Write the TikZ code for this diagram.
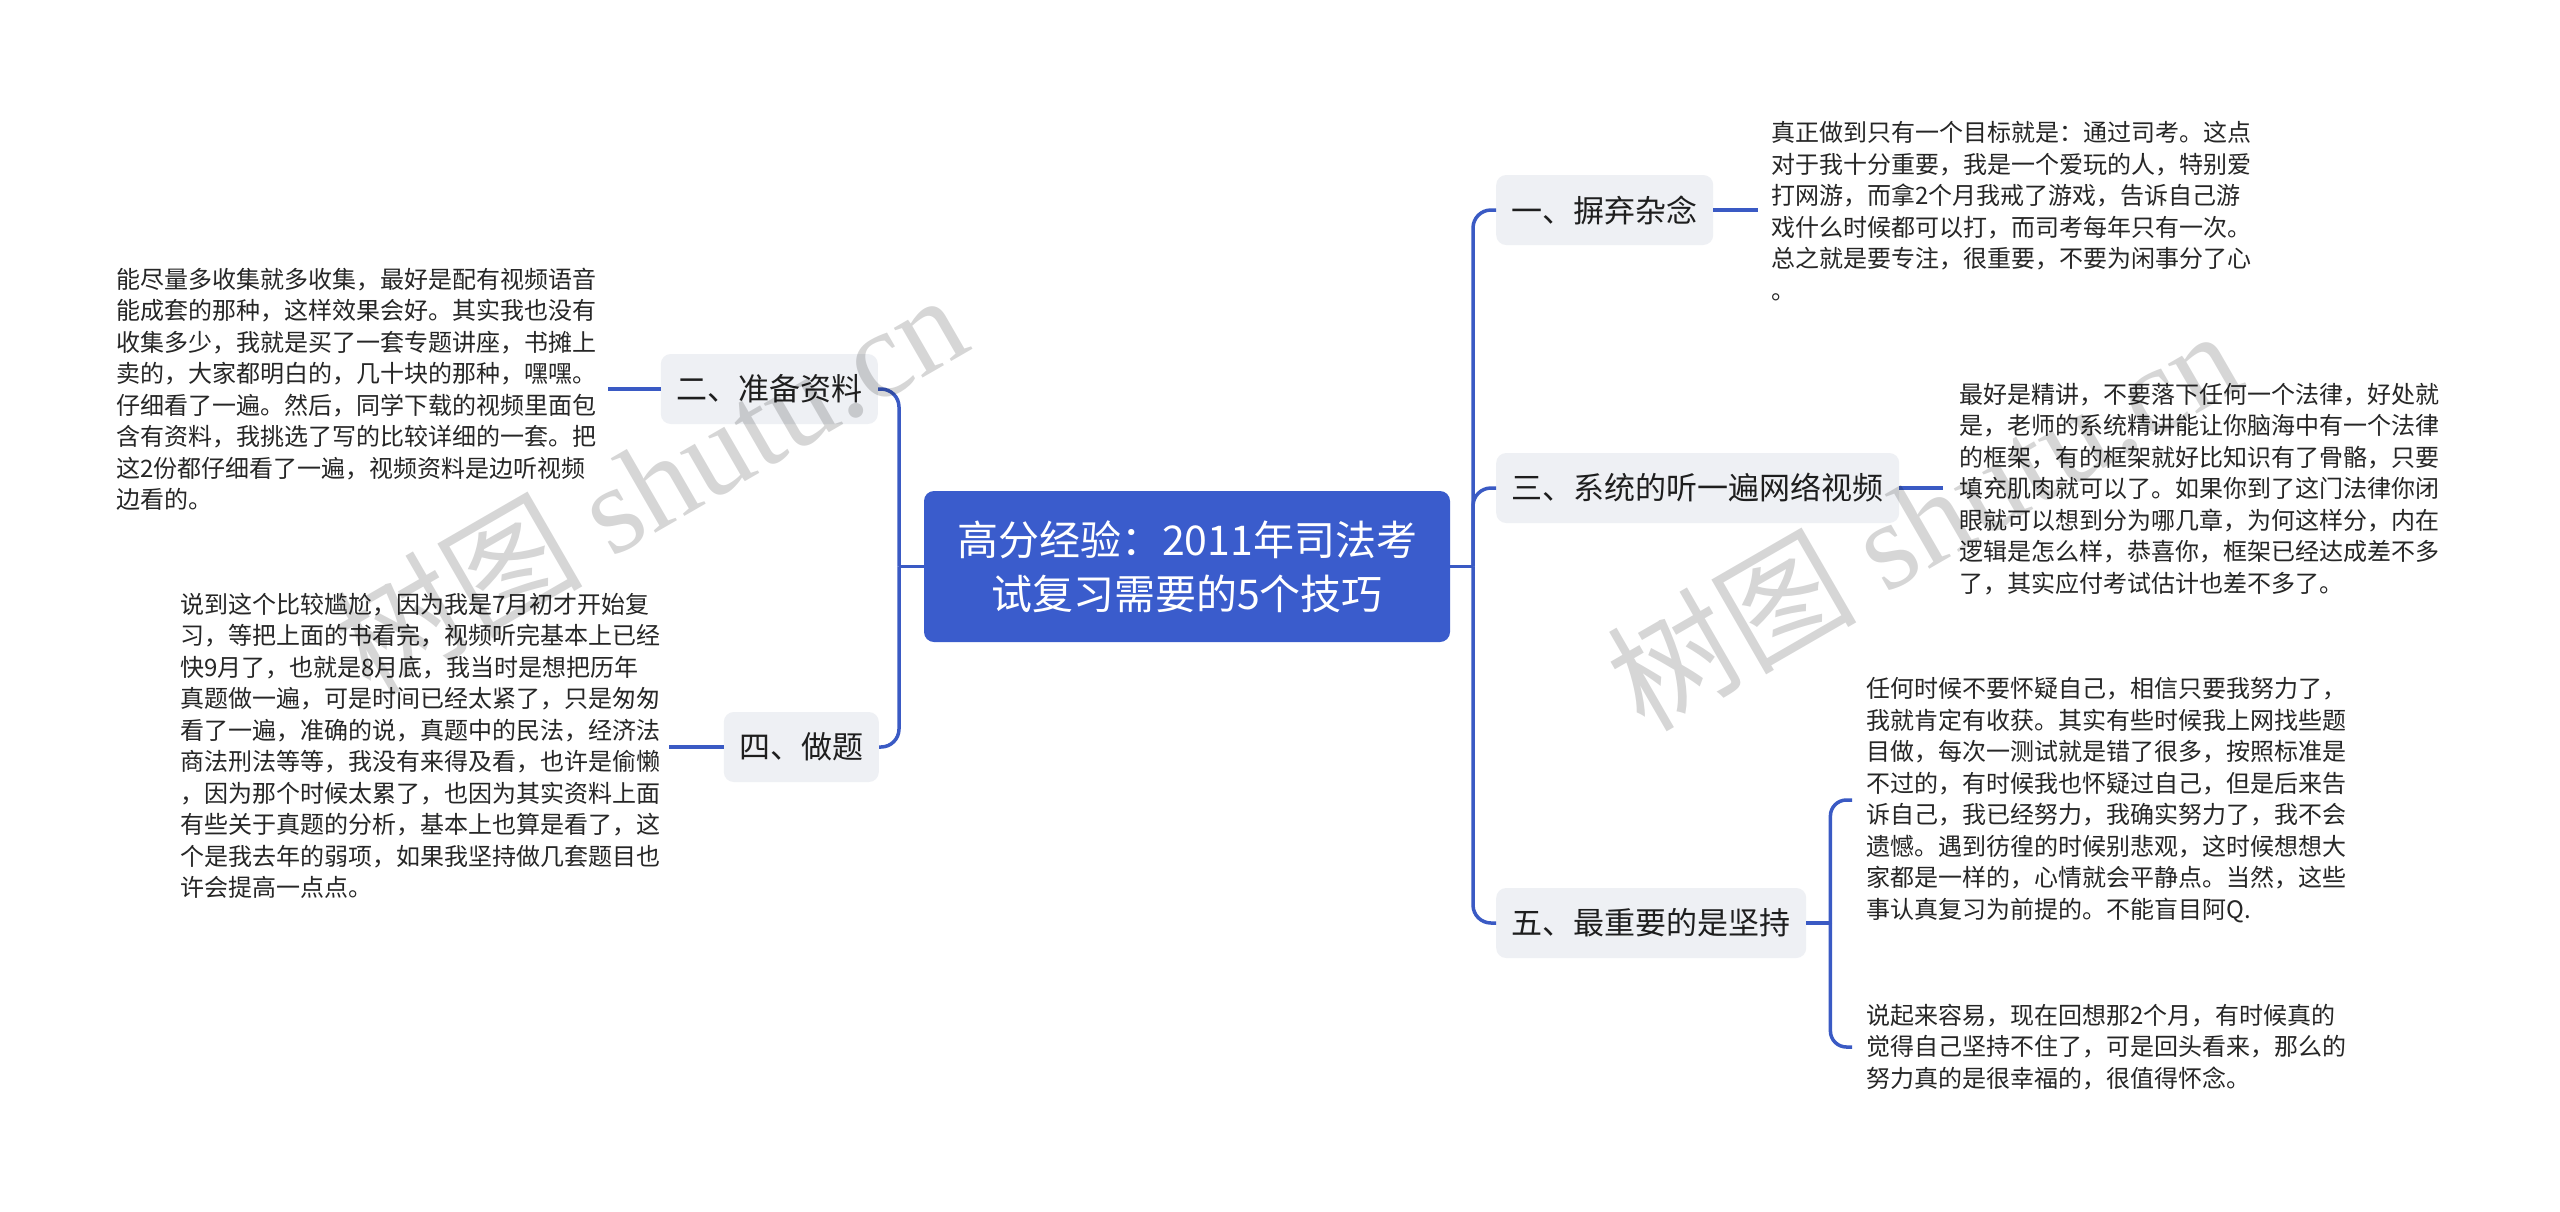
\documentclass[tikz,border=0pt]{standalone}
\usepackage{fontspec}
\setmainfont{Noto Sans CJK SC}
\newfontfamily\wmserif{Liberation Serif}
\usetikzlibrary{calc}
\definecolor{mainblue}{HTML}{3A5CCC}
\definecolor{linecol}{HTML}{3A5AC4}
\definecolor{branchbg}{HTML}{EEF0F4}
\definecolor{txtdark}{HTML}{1E1E1E}
\definecolor{txtleaf}{HTML}{262626}
\begin{document}
\begin{tikzpicture}[x=1pt,y=-1pt,
  conn/.style={draw=linecol, line width=3.5pt},
  rootbox/.style={fill=mainblue, rounded corners=10pt, text=white, font=\fontsize{41}{54}\selectfont, align=center, minimum width=526pt, minimum height=151pt, inner sep=0pt},
  branch/.style={fill=branchbg, rounded corners=10pt, text=txtdark, font=\fontsize{31}{36}\selectfont, inner xsep=15.5pt, inner ysep=0pt, minimum height=70pt},
  leaf/.style={text=txtleaf, font=\fontsize{24}{31.5}\selectfont, align=left, inner sep=0pt, anchor=west},
  wm/.style={text=black, opacity=0.16, rotate=30, font=\fontsize{125}{130}\selectfont, inner sep=0pt}]
\fill[white] (0,0) rectangle (2560,1211);
\useasboundingbox (0,0) rectangle (2560,1211);

% root
\node[rootbox] (root) at (1187,566.5) {高分经验：2011年司法考\\试复习需要的5个技巧};

% branches
\node[branch, anchor=east] (b2) at (878,389) {二、准备资料};
\node[branch, anchor=east] (b4) at (879,747) {四、做题};
\node[branch, anchor=west] (b1) at (1496,210) {一、摒弃杂念};
\node[branch, anchor=west] (b3) at (1496,488) {三、系统的听一遍网络视频};
\node[branch, anchor=west] (b5) at (1496,923) {五、最重要的是坚持};

% leaves
\node[leaf] (t2) at (116,389.5) {能尽量多收集就多收集，最好是配有视频语音\\
能成套的那种，这样效果会好。其实我也没有\\
收集多少，我就是买了一套专题讲座，书摊上\\
卖的，大家都明白的，几十块的那种，嘿嘿。\\
仔细看了一遍。然后，同学下载的视频里面包\\
含有资料，我挑选了写的比较详细的一套。把\\
这2份都仔细看了一遍，视频资料是边听视频\\
边看的。};

\node[leaf] (t4) at (180,746) {说到这个比较尴尬，因为我是7月初才开始复\\
习，等把上面的书看完，视频听完基本上已经\\
快9月了，也就是8月底，我当时是想把历年\\
真题做一遍，可是时间已经太紧了，只是匆匆\\
看了一遍，准确的说，真题中的民法，经济法\\
商法刑法等等，我没有来得及看，也许是偷懒\\
，因为那个时候太累了，也因为其实资料上面\\
有些关于真题的分析，基本上也算是看了，这\\
个是我去年的弱项，如果我坚持做几套题目也\\
许会提高一点点。};

\node[leaf] (t1) at (1771,211) {真正做到只有一个目标就是：通过司考。这点\\
对于我十分重要，我是一个爱玩的人，特别爱\\
打网游，而拿2个月我戒了游戏，告诉自己游\\
戏什么时候都可以打，而司考每年只有一次。\\
总之就是要专注，很重要，不要为闲事分了心\\
。};

\node[leaf] (t3) at (1959,489) {最好是精讲，不要落下任何一个法律，好处就\\
是，老师的系统精讲能让你脑海中有一个法律\\
的框架，有的框架就好比知识有了骨骼，只要\\
填充肌肉就可以了。如果你到了这门法律你闭\\
眼就可以想到分为哪几章，为何这样分，内在\\
逻辑是怎么样，恭喜你，框架已经达成差不多\\
了，其实应付考试估计也差不多了。};

\node[leaf] (t5a) at (1866,800) {任何时候不要怀疑自己，相信只要我努力了，\\
我就肯定有收获。其实有些时候我上网找些题\\
目做，每次一测试就是错了很多，按照标准是\\
不过的，有时候我也怀疑过自己，但是后来告\\
诉自己，我已经努力，我确实努力了，我不会\\
遗憾。遇到彷徨的时候别悲观，这时候想想大\\
家都是一样的，心情就会平静点。当然，这些\\
事认真复习为前提的。不能盲目阿Q.};

\node[leaf] (t5b) at (1866,1047) {说起来容易，现在回想那2个月，有时候真的\\
觉得自己坚持不住了，可是回头看来，那么的\\
努力真的是很幸福的，很值得怀念。};

% main connectors
\coordinate (LS) at (899,566.5);
\coordinate (RS) at (1473,566.5);
\draw[conn] (root.west) -- (LS);
\draw[conn, rounded corners=18pt] (LS) |- (b2.east);
\draw[conn, rounded corners=18pt] (LS) |- (b4.east);
\draw[conn] (root.east) -- (RS);
\draw[conn, rounded corners=18pt] (RS) |- (b1.west);
\draw[conn, rounded corners=18pt] (RS) |- (b3.west);
\draw[conn, rounded corners=18pt] (RS) |- (b5.west);

% leaf connectors
\coordinate (e2) at ([xshift=12pt]t2.east);
\draw[conn] (b2.west) -- (b2.west -| e2);
\coordinate (e4) at ([xshift=9pt]t4.east);
\draw[conn] (b4.west) -- (b4.west -| e4);
\coordinate (e1) at ([xshift=-13pt]t1.west);
\draw[conn] (b1.east) -- (b1.east -| e1);
\coordinate (e3) at ([xshift=-16pt]t3.west);
\draw[conn] (b3.east) -- (b3.east -| e3);
\coordinate (FS) at ([xshift=24pt]b5.east);
\draw[conn] (b5.east) -- (FS);
\draw[conn, rounded corners=16pt] (FS) |- ([xshift=-14pt]t5a.west);
\draw[conn, rounded corners=16pt] (FS) |- ([xshift=-14pt]t5b.west);

% watermarks
\node[wm] (wm1) at (649,482) {树图 {\wmserif shutu.cn}};
\node[wm] (wm2) at (1923,518) {树图 {\wmserif shutu.cn}};
\end{tikzpicture}
\end{document}
